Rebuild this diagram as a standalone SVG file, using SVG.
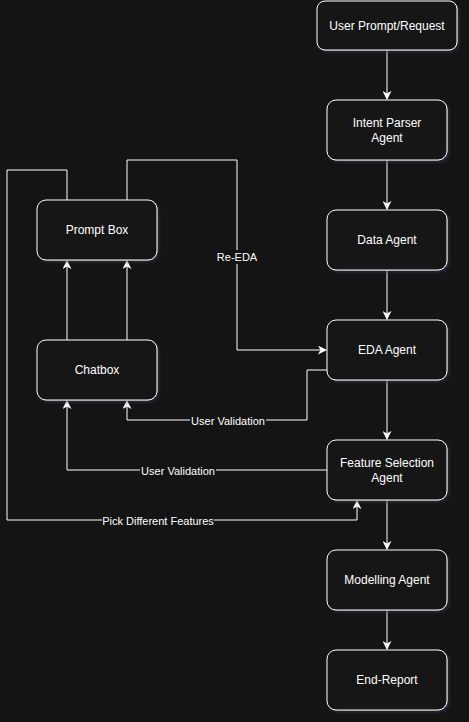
<svg xmlns="http://www.w3.org/2000/svg" width="469" height="722" viewBox="0 0 469 722">
<style>
.node rect{fill:#171717;stroke:#ffffff;stroke-width:1;filter:url(#sh)}
.node text{font-family:"Liberation Sans",Arial,sans-serif;font-size:12px;fill:#ffffff;text-anchor:middle}
.edges path{fill:none;stroke:#ffffff;stroke-width:1}
.lbl rect{fill:#141414}
.lbl text{font-family:"Liberation Sans",Arial,sans-serif;font-size:11px;fill:#ffffff;text-anchor:middle}
</style>
<defs>
<marker id="ar" viewBox="0 0 10 10" refX="9" refY="5" markerWidth="9" markerHeight="9" markerUnits="userSpaceOnUse" orient="auto">
<path d="M0,0 L10,5 L0,10 L3,5 Z" fill="#ffffff"/>
</marker>
<filter id="sh" x="-20%" y="-20%" width="140%" height="140%">
<feDropShadow dx="2" dy="2" stdDeviation="1.5" flood-color="#2a3050" flood-opacity="0.6"/>
</filter>
</defs>
<rect width="469" height="722" fill="#141414"/>
<g class="edges">
<path d="M387,50 V99" marker-end="url(#ar)"/>
<path d="M387,160 V209" marker-end="url(#ar)"/>
<path d="M387,270 V319" marker-end="url(#ar)"/>
<path d="M387,380 V439" marker-end="url(#ar)"/>
<path d="M387,500 V549" marker-end="url(#ar)"/>
<path d="M387,610 V649" marker-end="url(#ar)"/>
<path d="M67,340 V261" marker-end="url(#ar)"/>
<path d="M127,340 V261" marker-end="url(#ar)"/>
<path d="M127,200 V160 H237 V350 H326" marker-end="url(#ar)"/>
<path d="M67,200 V170 H7 V520 H357 V501" marker-end="url(#ar)"/>
<path d="M327,370 H307 V420 H127 V401" marker-end="url(#ar)"/>
<path d="M327,470 H67 V401" marker-end="url(#ar)"/>
<g class="lbl">
<rect x="216" y="250" width="42" height="14"/><text x="237" y="261">Re-EDA</text>
<rect x="190" y="414" width="76" height="14"/><text x="228" y="425">User Validation</text>
<rect x="140" y="464" width="76" height="14"/><text x="178" y="475">User Validation</text>
<rect x="102" y="514" width="112" height="14"/><text x="158" y="525">Pick Different Features</text>
</g>
</g>
<g id="user-prompt" class="node"><rect x="317" y="1" width="140" height="49" rx="8"/><text x="387" y="30">User Prompt/Request</text></g>
<g id="intent-parser" class="node"><rect x="327" y="100" width="120" height="60" rx="9"/><text x="387" y="127">Intent Parser</text><text x="387" y="142">Agent</text></g>
<g id="data-agent" class="node"><rect x="327" y="210" width="120" height="60" rx="9"/><text x="387" y="244">Data Agent</text></g>
<g id="eda-agent" class="node"><rect x="327" y="320" width="120" height="60" rx="9"/><text x="387" y="354">EDA Agent</text></g>
<g id="feature-selection" class="node"><rect x="327" y="440" width="120" height="60" rx="9"/><text x="387" y="467">Feature Selection</text><text x="387" y="482">Agent</text></g>
<g id="modelling-agent" class="node"><rect x="327" y="550" width="120" height="60" rx="9"/><text x="387" y="584">Modelling Agent</text></g>
<g id="end-report" class="node"><rect x="327" y="650" width="120" height="60" rx="9"/><text x="387" y="684">End-Report</text></g>
<g id="prompt-box" class="node"><rect x="37" y="200" width="120" height="60" rx="9"/><text x="97" y="234">Prompt Box</text></g>
<g id="chatbox" class="node"><rect x="37" y="340" width="120" height="60" rx="9"/><text x="97" y="374">Chatbox</text></g>
</svg>
